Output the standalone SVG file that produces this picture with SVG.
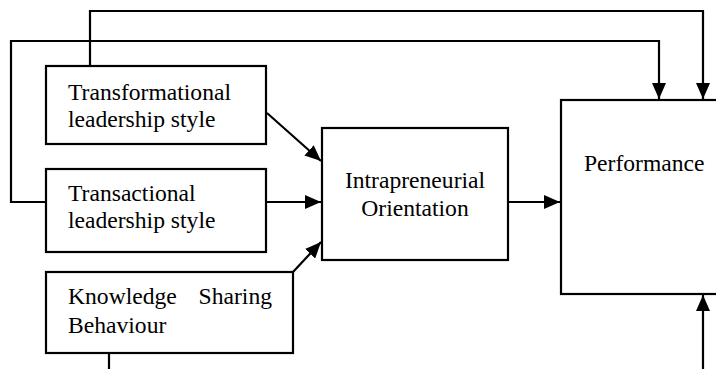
<svg xmlns="http://www.w3.org/2000/svg" width="716" height="369" viewBox="0 0 716 369">
<defs>
<marker id="ah" markerUnits="userSpaceOnUse" markerWidth="16" markerHeight="14" refX="16" refY="7" orient="auto" viewBox="0 0 16 14">
<path d="M0,0 L16,7 L0,14 z" fill="#000"/>
</marker>
<style>
.box{fill:#fff;stroke:#000;stroke-width:2.2}
.ln{fill:none;stroke:#000;stroke-width:2.2}
.t{font-family:"Liberation Serif","Times New Roman",serif;font-size:23.6px;fill:#000}
</style>
</defs>
<rect width="716" height="369" fill="#fff"/>
<g id="connectors">
<polyline class="ln" points="90,66 90,11 703,11 703,99" marker-end="url(#ah)"/>
<polyline class="ln" points="46,202 11,202 11,41 659,41 659,99" marker-end="url(#ah)"/>
<line class="ln" x1="267" y1="113" x2="321" y2="161" marker-end="url(#ah)"/>
<line class="ln" x1="266" y1="202" x2="321" y2="202" marker-end="url(#ah)"/>
<line class="ln" x1="293" y1="272" x2="321" y2="242" marker-end="url(#ah)"/>
<line class="ln" x1="508" y1="202" x2="560" y2="202" marker-end="url(#ah)"/>
<line class="ln" x1="703" y1="369" x2="703" y2="295" marker-end="url(#ah)"/>
<line class="ln" x1="109" y1="353" x2="109" y2="369"/>
</g>
<g id="transformational">
<rect class="box" x="46" y="66" width="220" height="78"/>
<text class="t" x="68" y="100">Transformational</text>
<text class="t" x="68" y="127">leadership style</text>
</g>
<g id="transactional">
<rect class="box" x="46" y="169" width="220" height="83"/>
<text class="t" x="68" y="201">Transactional</text>
<text class="t" x="68" y="228">leadership style</text>
</g>
<g id="knowledge">
<rect class="box" x="46" y="272" width="247" height="81"/>
<text class="t" x="68" y="304">Knowledge</text>
<text class="t" x="272" y="304" text-anchor="end">Sharing</text>
<text class="t" x="68" y="333">Behaviour</text>
</g>
<g id="intrapreneurial">
<rect class="box" x="322" y="128" width="186" height="132"/>
<text class="t" x="415" y="188" text-anchor="middle">Intrapreneurial</text>
<text class="t" x="415" y="216" text-anchor="middle">Orientation</text>
</g>
<g id="performance">
<rect class="box" x="561" y="100" width="170" height="194"/>
<text class="t" x="584" y="171">Performance</text>
</g>
</svg>
